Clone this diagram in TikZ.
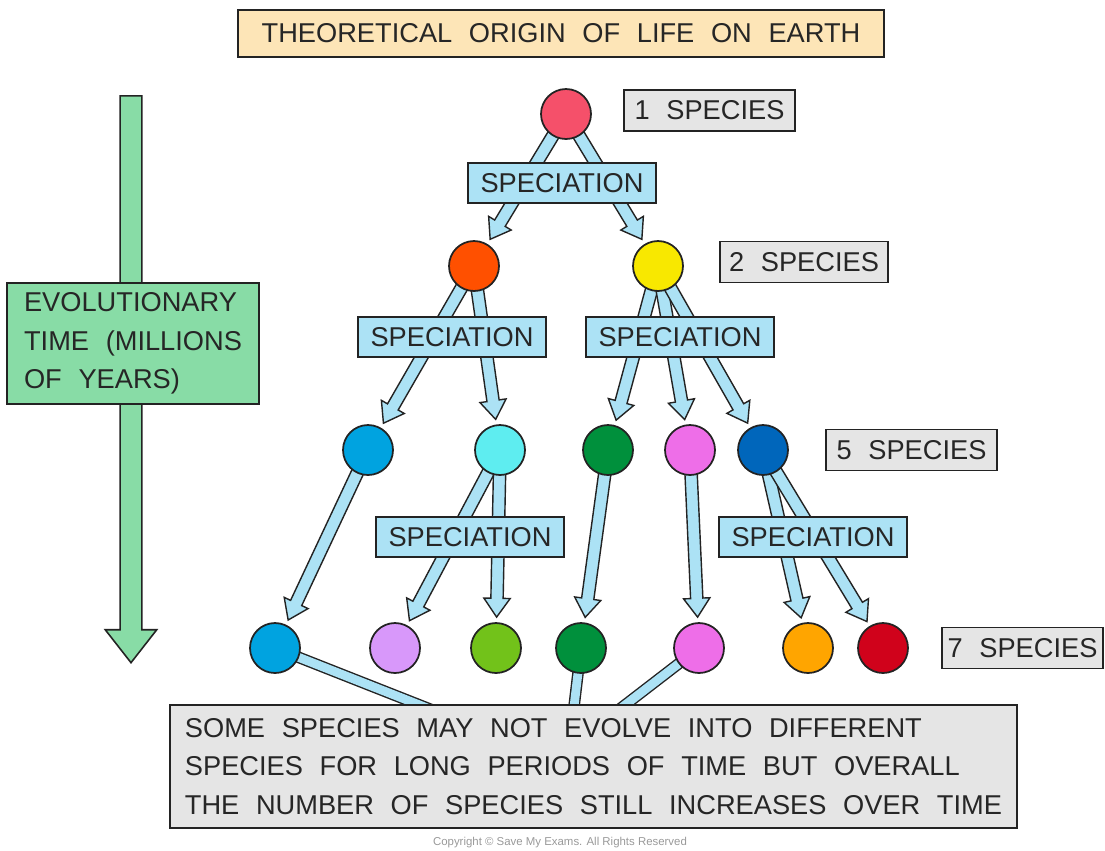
\documentclass[tikz,border=0pt]{standalone}
\usepackage{fontspec}
\setmainfont{Liberation Sans}[WordSpace=2.2]
\newfontfamily\plainfont{Liberation Sans}
\usetikzlibrary{calc,shapes.arrows}

\definecolor{specblue}{RGB}{172,226,245}
\definecolor{timegreen}{RGB}{136,220,166}
\definecolor{titlefill}{RGB}{253,229,183}
\definecolor{countgray}{RGB}{229,229,229}
\definecolor{edge}{RGB}{35,35,35}

\definecolor{rosered}{RGB}{245,80,106}
\definecolor{flame}{RGB}{255,80,0}
\definecolor{lemon}{RGB}{248,232,0}
\definecolor{sky}{RGB}{0,163,224}
\definecolor{aqua}{RGB}{94,237,240}
\definecolor{forest}{RGB}{0,144,60}
\definecolor{orchid}{RGB}{238,110,232}
\definecolor{royal}{RGB}{0,102,187}
\definecolor{lilac}{RGB}{216,152,250}
\definecolor{lime}{RGB}{114,194,26}
\definecolor{amber}{RGB}{255,165,0}
\definecolor{crimson}{RGB}{208,2,27}

\pgfdeclarelayer{bg}
\pgfsetlayers{bg,main}

\tikzset{
	sp/.style={circle, draw=edge, line width=1pt, minimum size=1cm, inner sep=0pt, fill=#1},
	box/.style={draw=edge, line width=1pt, inner sep=0pt, text=black!85,
		font=\fontsize{15.5}{22}\selectfont},
	specbox/.style={box, fill=specblue, minimum width=3.76cm, minimum height=0.8cm},
	countbox/.style={box, fill=countgray, minimum width=3.42cm, minimum height=0.82cm},
	evoarrow/.style={single arrow, draw=edge, fill=specblue, line width=0.8pt, inner sep=0pt,
		inner ysep=3.1pt, single arrow head extend=4pt, single arrow tip angle=70, anchor=tail},
	pipe/.style={draw=edge, line width=0.8pt, double=specblue, double distance=5pt}
}

\begin{document}
\begin{tikzpicture}[x=0.02cm, y=-0.02cm]

	\useasboundingbox (0,0) rectangle (1105,850);

	\node[box, fill=titlefill, minimum width=12.92cm, minimum height=0.94cm] (title) at (561,33.5) {THEORETICAL ORIGIN OF LIFE ON EARTH};

	\node[sp=rosered] (c1) at (566,114) {};
	\node[sp=flame] (c2a) at (474,266) {};
	\node[sp=lemon] (c2b) at (658,266) {};

	\node[sp=sky] (c3a) at (368,450) {};
	\node[sp=aqua] (c3b) at (500,450) {};
	\node[sp=forest] (c3c) at (608,450) {};
	\node[sp=orchid] (c3d) at (690,450) {};
	\node[sp=royal] (c3e) at (763,450) {};

	\node[sp=sky] (c4a) at (275,648) {};
	\node[sp=lilac] (c4b) at (395,648) {};
	\node[sp=lime] (c4c) at (496,648) {};
	\node[sp=forest] (c4d) at (581,648) {};
	\node[sp=orchid] (c4e) at (699,648) {};
	\node[sp=amber] (c4f) at (808,648) {};
	\node[sp=crimson] (c4g) at (883,648) {};

	\node[countbox] (n1) at (709.5,110.5) {1 SPECIES};
	\node[countbox, minimum width=3.36cm] (n2) at (804,262) {2 SPECIES};
	\node[countbox] (n5) at (911.5,450) {5 SPECIES};
	\node[countbox, minimum width=3.22cm] (n7) at (1022.5,648) {7 SPECIES};

	\node[specbox] (s1) at (562,183) {SPECIATION};
	\node[specbox] (s2) at (452,337) {SPECIATION};
	\node[specbox] (s3) at (680,337) {SPECIATION};
	\node[specbox] (s4) at (470,537) {SPECIATION};
	\node[specbox] (s5) at (813,537) {SPECIATION};

	\node[box, fill=timegreen, minimum width=5.04cm, minimum height=2.42cm, align=left] (time) at (133,343.5) {EVOLUTIONARY\\TIME (MILLIONS\\OF YEARS)};

	\node[box, fill=countgray, minimum width=16.94cm, minimum height=2.46cm, align=left] (note) at (593.5,766.5) {SOME SPECIES MAY NOT EVOLVE INTO DIFFERENT\\SPECIES FOR LONG PERIODS OF TIME BUT OVERALL\\THE NUMBER OF SPECIES STILL INCREASES OVER TIME};

	\node[text=black!40, font=\plainfont\fontsize{6.5}{8}\selectfont] (copy) at (560,843) {Copyright \textcopyright\ Save My Exams. All Rights Reserved};

	\coordinate (j1) at (445,715);
	\coordinate (j2) at (573,715);
	\coordinate (j3) at (612,715);

	\begin{pgfonlayer}{bg}
		\node[single arrow, draw=edge, fill=timegreen, line width=0.9pt, inner sep=0pt, inner ysep=5.7pt,
			single arrow head extend=8.5pt, single arrow tip angle=76, minimum height=11.34cm,
			rotate=-90, anchor=tail] (timearrow) at (131,95) {};

		\foreach \from/\to in {c1/c2a, c1/c2b, c2a/c3a, c2a/c3b, c2b/c3c, c2b/c3d, c2b/c3e,
			c3a/c4a, c3b/c4b, c3b/c4c, c3c/c4d, c3d/c4e, c3e/c4f, c3e/c4g}
			\path let \p1=($(\to)-(\from)$), \n1={atan2(\y1,\x1)}, \n2={veclen(\x1,\y1)-18pt} in
				node[evoarrow, minimum height=\n2, rotate=\n1] (arr-\to) at (\from) {};

		\draw[pipe] (c4a.center) -- (j1);
		\draw[pipe] (c4d.center) -- (j2);
		\draw[pipe] (c4e.center) -- (j3);
	\end{pgfonlayer}

\end{tikzpicture}
\end{document}
